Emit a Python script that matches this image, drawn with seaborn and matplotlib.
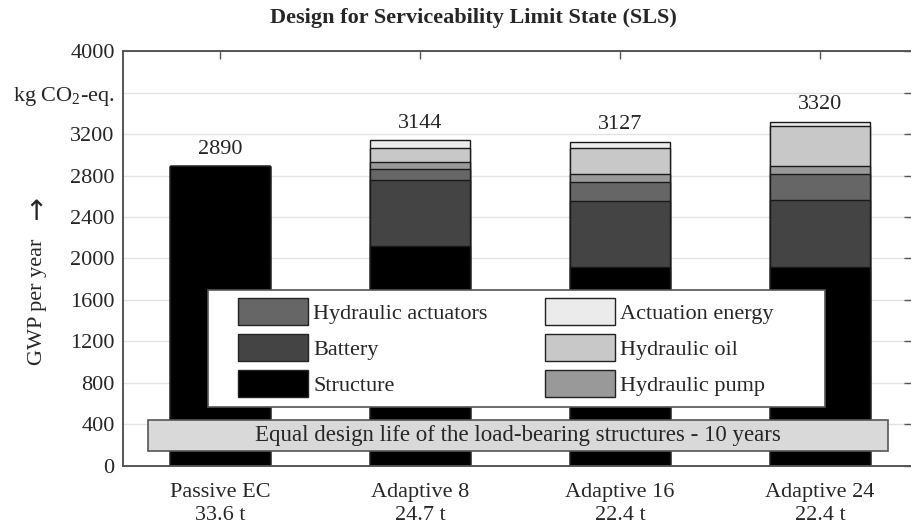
import numpy as np
import pandas as pd
import matplotlib.pyplot as plt
from matplotlib.patches import Patch, Rectangle
import seaborn as sns

# -----------------------------
# Data
# -----------------------------
categories = ['Passive EC', 'Adaptive 8', 'Adaptive 16', 'Adaptive 24']
masses = ['33.6 t', '24.7 t', '22.4 t', '22.4 t']

structure = [2890, 2120, 1920, 1920]
battery = [0, 635, 635, 640]
hyd_actuators = [0, 105, 180, 255]
hyd_pump = [0, 75, 80, 80]
hyd_oil = [0, 127, 250, 380]
actuation_energy = [0, 82, 62, 45]
totals = [2890, 3144, 3127, 3320]

yticks = [0, 400, 800, 1200, 1600, 2000, 2400, 2800, 3200, 3600, 4000]
ytick_labels = ['0', '400', '800', '1200', '1600', '2000', '2400', '2800', '3200',
                'kg CO$\\mathregular{_2}$-eq.', '4000']

# layers from bottom to top
layers = [
    ('Structure', structure, '#000000'),
    ('Battery', battery, '#444444'),
    ('Hydraulic actuators', hyd_actuators, '#666666'),
    ('Hydraulic pump', hyd_pump, '#999999'),
    ('Hydraulic oil', hyd_oil, '#c8c8c8'),
    ('Actuation energy', actuation_energy, '#ebebeb'),
]

# -----------------------------
# Style
# -----------------------------
sns.set_theme(style="white")
plt.rcParams['font.family'] = ['Liberation Serif', 'DejaVu Serif']
plt.rcParams['mathtext.fontset'] = 'custom'
plt.rcParams['mathtext.rm'] = 'Liberation Serif'

fig = plt.figure(figsize=(9.11, 5.27), dpi=100)
ax = fig.add_axes([0.135, 0.116, 0.866, 0.787])

# -----------------------------
# Stacked bars: draw cumulative sums, biggest first
# -----------------------------
df = pd.DataFrame({'category': categories})
cum = np.zeros(len(categories))
cum_list = []
for name, vals, color in layers:
    cum = cum + np.array(vals)
    cum_list.append((name, cum.copy(), color))

for name, c, color in reversed(cum_list):
    df['value'] = c
    sns.barplot(data=df, x='category', y='value', color=color, width=0.5,
                edgecolor='#1a1a1a', linewidth=1.0, saturation=1, ax=ax, zorder=2)

# value labels above bars
for i, t in enumerate(totals):
    ax.text(i, t + 70, str(t), ha='center', va='bottom', fontsize=16)

# -----------------------------
# Axes
# -----------------------------
ax.set_xlim(-0.485, 3.46)
ax.set_ylim(0, 4000)
ax.set_yticks(yticks)
ax.set_yticklabels(ytick_labels, fontsize=16)
ax.set_xticks(range(len(categories)))
ax.set_xticklabels([f'{c}\n{m}' for c, m in zip(categories, masses)], fontsize=16,
                   linespacing=1.3)
ax.set_xlabel('')
ax.set_ylabel('')
ax.text(-0.108, 0.395, 'GWP per year', rotation=90, ha='center', va='center',
        fontsize=16, transform=ax.transAxes)
ax.text(-0.110, 0.612, '\u2191', ha='center', va='center', fontsize=20,
        family='DejaVu Sans', transform=ax.transAxes)

ax.yaxis.grid(True, color='#e3e3e3', linewidth=1.0, zorder=0)
ax.set_axisbelow(True)
ax.tick_params(axis='y', direction='in', length=6, width=1, color='#555555',
               right=True, pad=6)
ax.tick_params(axis='x', direction='in', length=6, width=1, color='#555555',
               top=True, pad=12)
for side in ['left', 'bottom', 'top', 'right']:
    ax.spines[side].set_color('#555555')
    ax.spines[side].set_linewidth(1.4)

# -----------------------------
# Legend (frame drawn as its own box)
# -----------------------------
ax.add_patch(Rectangle((-0.06, 569), 3.085, 1127, facecolor='white',
                       edgecolor='#555555', linewidth=1.2, zorder=4))
leg_order = ['Hydraulic actuators', 'Battery', 'Structure',
             'Actuation energy', 'Hydraulic oil', 'Hydraulic pump']
colors = {name: color for name, _, color in layers}
handles = [Patch(facecolor=colors[n], edgecolor='#222222', linewidth=1.0, label=n)
           for n in leg_order]
leg = ax.legend(handles=handles, ncol=2, loc='center left',
                bbox_to_anchor=(0.146, 0.2855, 0.679, 0.0), mode='expand',
                fontsize=16, frameon=False, handlelength=3.15, handleheight=1.49,
                handletextpad=0.22, labelspacing=0.4, borderpad=0,
                columnspacing=1.0, borderaxespad=0)
leg.set_zorder(5)

# annotation box
ax.add_patch(Rectangle((-0.36, 145), 3.70, 298, facecolor='#d9d9d9',
                       edgecolor='#555555', linewidth=1.2, zorder=6))
ax.text(1.49, 294, 'Equal design life of the load-bearing structures - 10 years',
        ha='center', va='center', fontsize=16.5, zorder=7)

fig.text(0.52, 0.965, 'Design for Serviceability Limit State (SLS)', ha='center',
         va='center', fontsize=16, fontweight='bold')

fig.savefig('out.png', dpi=100)
